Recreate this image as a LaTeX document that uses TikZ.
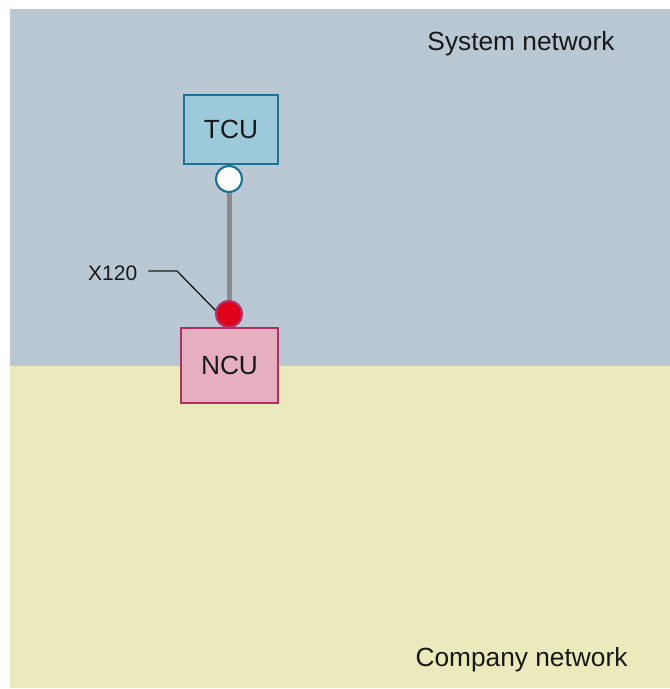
\documentclass[tikz,border=0pt]{standalone}
\usepackage{fontspec}
\setmainfont{Liberation Sans}
\definecolor{sysbg}{RGB}{185,200,211}
\definecolor{compbg}{RGB}{234,234,188}
\definecolor{tcufill}{RGB}{157,202,218}
\definecolor{tculine}{RGB}{30,115,148}
\definecolor{ncufill}{RGB}{229,175,192}
\definecolor{nculine}{RGB}{181,44,99}
\definecolor{portred}{RGB}{223,0,25}
\definecolor{portline}{RGB}{178,51,106}
\definecolor{cablegray}{RGB}{138,138,138}
\tikzset{
  bigtext/.style={font=\fontsize{26.3}{30}\selectfont, text=black!90},
  unitbox/.style={draw, line width=2pt, inner sep=0pt, bigtext},
  port/.style={circle, line width=2pt, inner sep=0pt, minimum size=26pt},
}
\begin{document}
\begin{tikzpicture}[x=1pt,y=-1pt]
\useasboundingbox (0,0) rectangle (670,689);
\fill[sysbg] (10,9) rectangle (670,366);
\fill[compbg] (10,366) rectangle (670,688);
\node[bigtext, anchor=base] (sys) at (521,50) {System network};
\node[bigtext, anchor=base] (comp) at (521.5,666) {Company network};
\node[unitbox, fill=tcufill, draw=tculine, minimum width=94pt, minimum height=69pt] (tcu) at (231,129.5) {TCU};
\node[unitbox, fill=ncufill, draw=nculine, minimum width=97pt, minimum height=75pt] (ncu) at (229.5,365.5) {NCU};
\node[port, fill=white, draw=tculine] (p1) at (229,179) {};
\node[port, fill=portred, draw=portline] (p2) at (229,314) {};
\draw[cablegray, line width=5pt] (p1.south) -- (p2.north);
\node[port, fill=white, draw=tculine] at (p1.center) {};
\node[port, fill=portred, draw=portline] at (p2.center) {};
\node[font=\fontsize{21}{24}\selectfont, text=black!90, anchor=base west, inner sep=0pt] (x120) at (88,280.5) {X120};
\coordinate (lbend) at (177,271);
\draw[line width=1.3pt, black!90, shorten <=11pt] (x120.east |- lbend) -- (lbend) -- (p2.165);
\end{tikzpicture}
\end{document}
